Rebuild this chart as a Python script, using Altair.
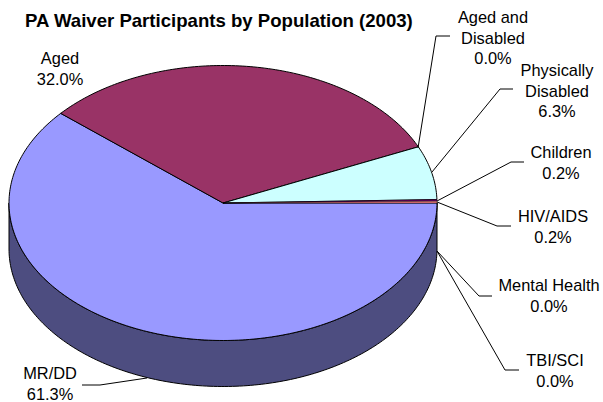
import math
import altair as alt
import pandas as pd

# Population shares, in drawing order (clockwise from the 3 o'clock slice boundary)
names = ["MR/DD", "Aged", "Aged and Disabled", "Physically Disabled",
         "Children", "HIV/AIDS", "Mental Health", "TBI/SCI"]
shares = [61.3, 32.0, 0.0, 6.3, 0.2, 0.2, 0.0, 0.0]
top_colors = ["#9999FF", "#993366", "#FFFFCC", "#CCFFFF",
              "#660066", "#FF8080", "#0066CC", "#CCCCFF"]
wall_colors = ["#4D4D80", "#4D1A33", "#808066", "#668080",
               "#330033", "#804040", "#003366", "#666680"]
chart_title = "PA Waiver Participants by Population (2003)"

# Tilted pie geometry, in page pixels
WIDTH, HEIGHT = 603, 402
CX, CY, RX, RY, DEPTH = 223, 203, 214, 137.5, 46
FONT = "Liberation Sans"
x_scale = alt.Scale(domain=[0, WIDTH], range=[0, WIDTH])
y_scale = alt.Scale(domain=[0, HEIGHT], range=[0, HEIGHT])


def rim(angle, drop=0):
    rad = math.radians(angle)
    return CX + RX * math.cos(rad), CY - RY * math.sin(rad) + drop


def arc(a0, a1, drop=0):
    steps = max(2, int(abs(a1 - a0)) + 2)
    return [rim(a0 + (a1 - a0) * i / (steps - 1), drop) for i in range(steps)]


def polygon(points, fill, stroke_width=1.0):
    frame = pd.DataFrame(points, columns=["x", "y"]).assign(i=range(len(points)))
    return alt.Chart(frame).mark_line(
        interpolate="linear-closed", fill=fill, stroke="black", strokeWidth=stroke_width
    ).encode(
        x=alt.X("x:Q", scale=x_scale, axis=None),
        y=alt.Y("y:Q", scale=y_scale, axis=None),
        order="i:Q",
    )


def polyline(points):
    frame = pd.DataFrame(points, columns=["x", "y"]).assign(i=range(len(points)))
    return alt.Chart(frame).mark_line(stroke="black", strokeWidth=1).encode(
        x=alt.X("x:Q", scale=x_scale, axis=None),
        y=alt.Y("y:Q", scale=y_scale, axis=None),
        order="i:Q",
    )


# Slice boundaries in degrees, counter-clockwise from 3 o'clock
spans = []
angle = 0.0
for share in shares:
    next_angle = angle - share * 3.6
    spans.append((angle, next_angle))
    angle = next_angle

layers = []

# Side wall: only the front half of the rim is visible
for (a0, a1), share, color in zip(spans, shares, wall_colors):
    front0, front1 = min(a0, 0), max(a1, -180)
    if share > 0 and front0 > front1:
        layers.append(polygon(arc(front0, front1) + arc(front1, front0, DEPTH), color))

# Top face; hairline outlines keep the thinnest slices visible
for (a0, a1), share, color in zip(spans, shares, top_colors):
    if share > 0:
        outline = 0.4 if share < 1 else 1.0
        layers.append(polygon([(CX, CY)] + arc(a0, a1), color, outline))

# Leader lines from the rim to each label
leaders = [
    [(147, 378), (100, 385), (82, 385)],
    [(418, 148), (436, 36), (450, 36)],
    [(432, 172), (500, 89), (513, 89)],
    [(437, 201), (511, 162), (524, 162)],
    [(437, 202), (497, 226), (511, 226)],
    [(437, 251), (479, 296), (492, 296)],
    [(437, 251), (505, 370), (519, 370)],
]
layers += [polyline(p) for p in leaders]

# Category labels carry their percentage on the last line
label_lines = {
    "Aged and Disabled": "Aged and\nDisabled",
    "Physically Disabled": "Physically\nDisabled",
}
label_anchor = {
    "MR/DD": (50, 366), "Aged": (60, 51), "Aged and Disabled": (493, 10),
    "Physically Disabled": (557, 63), "Children": (561, 145), "HIV/AIDS": (553, 209),
    "Mental Health": (549, 278), "TBI/SCI": (555, 353),
}
labels = pd.DataFrame([
    {"label": f"{label_lines.get(n, n)}\n{s:.1f}%",
     "x": label_anchor[n][0], "y": label_anchor[n][1]}
    for n, s in zip(names, shares)
])
layers.append(alt.Chart(labels).mark_text(
    font=FONT, fontSize=16.4, lineBreak="\n", lineHeight=20.5,
    align="center", baseline="top", color="black",
).encode(
    x=alt.X("x:Q", scale=x_scale, axis=None),
    y=alt.Y("y:Q", scale=y_scale, axis=None),
    text="label:N",
))

head = pd.DataFrame({"label": [chart_title], "x": [25], "y": [21]})
layers.append(alt.Chart(head).mark_text(
    font=FONT, fontSize=18.6, fontWeight="bold", align="left",
    baseline="middle", color="black",
).encode(
    x=alt.X("x:Q", scale=x_scale, axis=None),
    y=alt.Y("y:Q", scale=y_scale, axis=None),
    text="label:N",
))

chart = alt.layer(*layers).properties(
    width=WIDTH, height=HEIGHT, padding=0,
    autosize=alt.AutoSizeParams(type="none"), background="white",
).configure_view(stroke=None)

chart.save("out.html", embed_options={"renderer": "svg", "actions": False})
